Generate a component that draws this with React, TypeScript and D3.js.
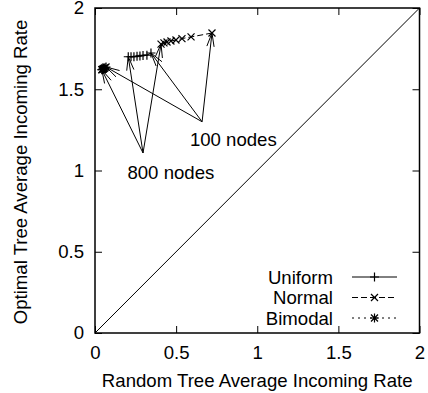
import * as d3 from "d3";
import { useEffect, useRef } from "react";

const width = 428;
const height = 393;
const marginLeft = 95;
const marginRight = 8.5;
const marginTop = 8;
const marginBottom = 60;

// node counts 100..800, read left-to-right on each curve (100 nodes is the far end)
const nodes = [100, 200, 300, 400, 500, 600, 700, 800];
const uniformX = [0.345, 0.32, 0.296, 0.277, 0.259, 0.24, 0.222, 0.205];
const uniformY = [1.723, 1.71, 1.708, 1.705, 1.703, 1.70, 1.70, 1.70];
const normalX = [0.721, 0.592, 0.536, 0.499, 0.468, 0.444, 0.425, 0.407];
const normalY = [1.846, 1.822, 1.812, 1.803, 1.797, 1.791, 1.785, 1.778];
const bimodalX = [0.068, 0.062, 0.057, 0.053, 0.05, 0.047, 0.044, 0.042];
const bimodalY = [1.637, 1.633, 1.629, 1.626, 1.624, 1.622, 1.621, 1.62];

const seriesNames = ["Uniform", "Normal", "Bimodal"];
const tickValues = [0, 0.5, 1, 1.5, 2];

// annotations: label text, arrow origin (data coords), label anchor (data coords)
const noteLabels = ["100 nodes", "800 nodes"];
const noteFrom = [[0.66, 1.3], [0.296, 1.108]];
const noteText = [[0.585, 1.15], [0.2, 0.95]];
const noteIndex = [0, 7];

const x = d3.scaleLinear([0, 2], [marginLeft, width - marginRight]);
const y = d3.scaleLinear([0, 2], [height - marginBottom, marginTop]);

const plus = "M-4.5,0H4.5M0,-4.5V4.5";
const cross = "M-3.5,-3.5L3.5,3.5M-3.5,3.5L3.5,-3.5";
const markers = [plus, cross, plus + cross];
const dashes = ["none", "6,3", "2,4"];

const series = [
  { xs: uniformX, ys: uniformY },
  { xs: normalX, ys: normalY },
  { xs: bimodalX, ys: bimodalY },
];

const font = "'Liberation Sans', Arial, Helvetica, sans-serif";
const fs = 18.6;

function arrowHead(x0: number, y0: number, x1: number, y1: number) {
  const a = Math.atan2(y1 - y0, x1 - x0);
  const len = 14;
  const spread = (15 * Math.PI) / 180;
  const p1 = [x1 - len * Math.cos(a - spread), y1 - len * Math.sin(a - spread)];
  const p2 = [x1 - len * Math.cos(a + spread), y1 - len * Math.sin(a + spread)];
  return `M${p1[0]},${p1[1]}L${x1},${y1}L${p2[0]},${p2[1]}`;
}

const App = () => {
  const gx = useRef<any>(null);
  const gy = useRef<any>(null);
  const gt = useRef<any>(null);
  const gr = useRef<any>(null);

  useEffect(() => {
    const fmt = (d: any) => String(d);
    d3.select(gx.current)
      .call(d3.axisBottom(x).tickValues(tickValues).tickSize(-7).tickPadding(13).tickFormat(fmt))
      .call((g: any) => g.select(".domain").remove());
    d3.select(gy.current)
      .call(d3.axisLeft(y).tickValues(tickValues).tickSize(-7).tickPadding(11).tickFormat(fmt))
      .call((g: any) => g.select(".domain").remove());
    d3.select(gt.current)
      .call(d3.axisTop(x).tickValues(tickValues).tickSize(-7).tickFormat(() => ""))
      .call((g: any) => g.select(".domain").remove());
    d3.select(gr.current)
      .call(d3.axisRight(y).tickValues(tickValues).tickSize(-7).tickFormat(() => ""))
      .call((g: any) => g.select(".domain").remove());
    d3.selectAll(".ax text").attr("font-size", fs).attr("font-family", font).attr("fill", "black");
    d3.selectAll(".ax line").attr("stroke", "black");
  }, []);

  return (
    <svg width={width} height={height} style={{ position: "absolute", left: 0, top: 0, background: "white" }}>
      <g className="ax" ref={gx} transform={`translate(0,${y(0)})`} />
      <g className="ax" ref={gy} transform={`translate(${x(0)},0)`} />
      <g className="ax" ref={gt} transform={`translate(0,${y(2)})`} />
      <g className="ax" ref={gr} transform={`translate(${x(2)},0)`} />

      {/* diagonal y = x */}
      <path d={d3.line()([[x(0), y(0)], [x(2), y(2)]]) as string} stroke="black" strokeWidth={1} fill="none" />

      {series.map((s, k) => {
        const l = d3.line<number>((_, i) => x(s.xs[i]), (_, i) => y(s.ys[i]));
        return (
          <g key={k}>
            <path d={l(nodes) as string} fill="none" stroke="black" strokeWidth={1} strokeDasharray={dashes[k]} />
            {nodes.map((_, i) => (
              <path key={i} d={markers[k]} transform={`translate(${x(s.xs[i])},${y(s.ys[i])})`} stroke="black" strokeWidth={1.2} fill="none" />
            ))}
          </g>
        );
      })}

      {noteLabels.map((lab, n) => {
        const fx = x(noteFrom[n][0]);
        const fy = y(noteFrom[n][1]);
        return (
          <g key={lab}>
            {series.map((s, k) => {
              const tx = x(s.xs[noteIndex[n]]);
              const ty = y(s.ys[noteIndex[n]]);
              return (
                <g key={k} stroke="black" strokeWidth={1} fill="none">
                  <path d={d3.line()([[fx, fy], [tx, ty]]) as string} />
                  <path d={arrowHead(fx, fy, tx, ty)} />
                </g>
              );
            })}
            <text x={x(noteText[n][0])} y={y(noteText[n][1])} fontSize={fs} fontFamily={font}>
              {lab}
            </text>
          </g>
        );
      })}

      {/* legend */}
      {seriesNames.map((name, k) => {
        const cy = 277 + k * 20.5;
        return (
          <g key={name}>
            <text x={333} y={cy} dy="0.35em" textAnchor="end" fontSize={fs} fontFamily={font}>
              {name}
            </text>
            <path d={`M352,${cy}H397`} stroke="black" strokeWidth={1} strokeDasharray={dashes[k]} />
            <path d={markers[k]} transform={`translate(374.5,${cy})`} stroke="black" strokeWidth={1.2} fill="none" />
          </g>
        );
      })}

      <rect x={x(0)} y={y(2)} width={x(2) - x(0)} height={y(0) - y(2)} fill="none" stroke="black" strokeWidth={1.5} />

      <text x={(x(0) + x(2)) / 2} y={387} textAnchor="middle" fontSize={fs} fontFamily={font}>
        Random Tree Average Incoming Rate
      </text>
      <text transform={`translate(27,172) rotate(-90)`} textAnchor="middle" fontSize={fs} fontFamily={font}>
        Optimal Tree Average Incoming Rate
      </text>
    </svg>
  );
};

export default App;
